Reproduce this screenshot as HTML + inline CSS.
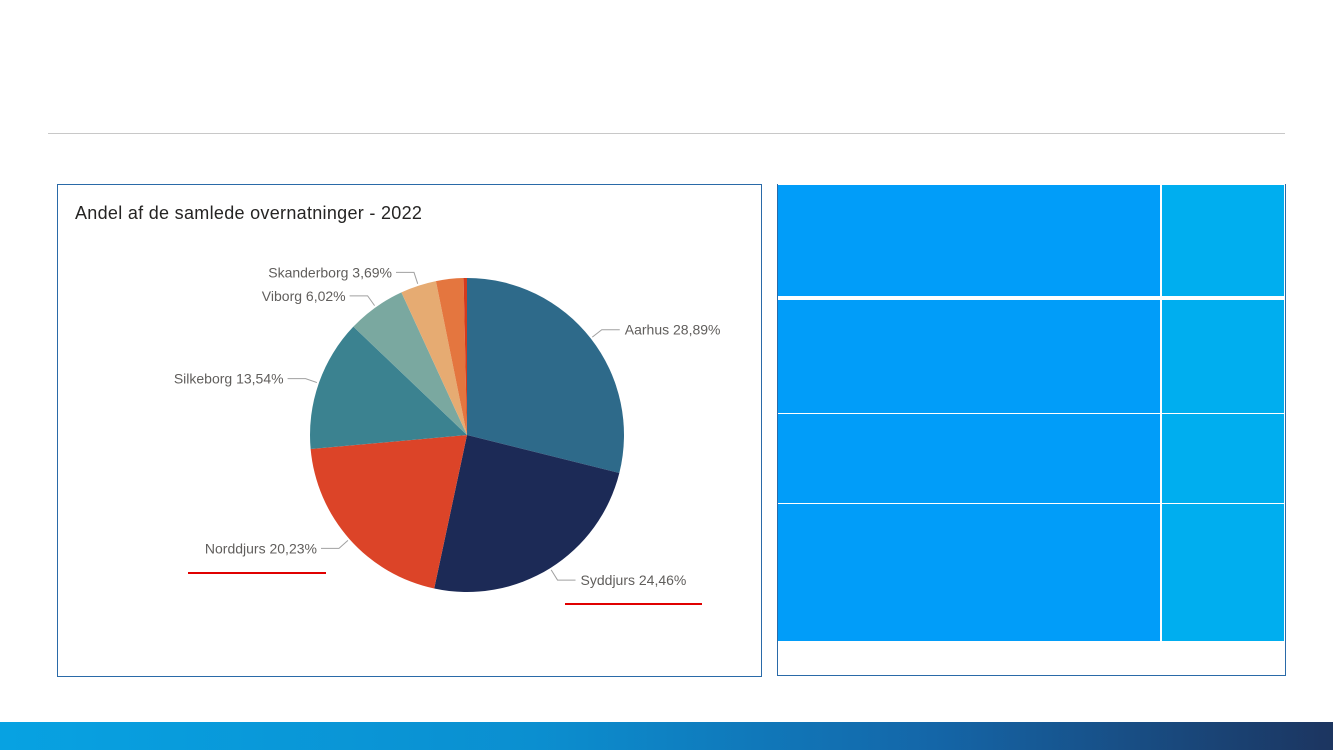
<!DOCTYPE html>
<html><head><meta charset="utf-8">
<style>
body{margin:0;width:1333px;height:750px;background:#fff;position:relative;overflow:hidden;font-family:"Liberation Sans",sans-serif}
.abs{position:absolute}
</style></head>
<body>
<div class="abs" style="left:48px;top:133px;width:1237px;height:1px;background:#c8c8c8"></div>
<div class="abs" style="left:57px;top:184px;width:703px;height:491px;border:1px solid #2a6aa8"></div>
<div class="abs" style="left:75px;top:203px;font-size:18px;color:#252423;letter-spacing:0.3px">Andel af de samlede overnatninger - 2022</div>
<svg class="abs" style="left:0;top:0" width="1333" height="750">
<g id="pie"></g>
<line x1="188" y1="573" x2="326" y2="573" stroke="#e00000" stroke-width="2"/>
<line x1="565" y1="604" x2="702" y2="604" stroke="#e00000" stroke-width="2"/>
</svg>
<div class="abs" style="left:777px;top:184px;width:507px;height:491px;border:1px solid #2a6aa8;border-top:none"></div>
<div class="abs" style="left:778px;top:185px;width:506px;height:456px">
 <div class="abs" style="left:0;top:0;width:382px;height:111px;background:#019df9"></div>
 <div class="abs" style="left:384px;top:0;width:122px;height:111px;background:#00aeef"></div>
 <div class="abs" style="left:0;top:115px;width:382px;height:113px;background:#019df9"></div>
 <div class="abs" style="left:384px;top:115px;width:122px;height:113px;background:#00aeef"></div>
 <div class="abs" style="left:0;top:229px;width:382px;height:89px;background:#019df9"></div>
 <div class="abs" style="left:384px;top:229px;width:122px;height:89px;background:#00aeef"></div>
 <div class="abs" style="left:0;top:319px;width:382px;height:137px;background:#019df9"></div>
 <div class="abs" style="left:384px;top:319px;width:122px;height:137px;background:#00aeef"></div>
</div>
<div class="abs" style="left:0;top:722px;width:1333px;height:28px;background:linear-gradient(90deg,#07a2e2 0%,#0b8fd0 40%,#1466a8 70%,#1c3560 100%)"></div>
<script>
const categories=["Aarhus","Syddjurs","Norddjurs","Silkeborg","Viborg","Skanderborg","Øvrige A","Øvrige B"];
const values=[28.89,24.46,20.23,13.54,6.02,3.69,2.82,0.35];
const labels=["Aarhus 28,89%","Syddjurs 24,46%","Norddjurs 20,23%","Silkeborg 13,54%","Viborg 6,02%","Skanderborg 3,69%","",""];
const colors=["#2e6a8a","#1c2a56","#dc4428","#3b8290","#7aa8a0","#e6ab72","#e4763f","#d43a1e"];
const cx=467,cy=435,R=157;
const NS="http://www.w3.org/2000/svg";
const g=document.getElementById('pie');
const total=values.reduce((a,b)=>a+b,0);
function pt(a,r){return [cx+r*Math.sin(a),cy-r*Math.cos(a)];}
let acc=0;
values.forEach((v,i)=>{
 const a0=acc/total*2*Math.PI; acc+=v; const a1=acc/total*2*Math.PI;
 const p0=pt(a0,R),p1=pt(a1,R);
 const path=document.createElementNS(NS,'path');
 path.setAttribute('d',`M${cx},${cy}L${p0[0]},${p0[1]}A${R},${R} 0 ${a1-a0>Math.PI?1:0} 1 ${p1[0]},${p1[1]}Z`);
 path.setAttribute('fill',colors[i]);
 
 
 g.appendChild(path);
 if(labels[i]){
  const am=(a0+a1)/2, right=Math.sin(am)>=0;
  const s=pt(am,R+2), e=pt(am,R+14);
  const hx=e[0]+(right?18:-18);
  const pl=document.createElementNS(NS,'polyline');
  pl.setAttribute('points',`${s[0]},${s[1]} ${e[0]},${e[1]} ${hx},${e[1]}`);
  pl.setAttribute('fill','none');pl.setAttribute('stroke','#a0a0a0');pl.setAttribute('stroke-width','1');
  
  
  g.appendChild(pl);
  const t=document.createElementNS(NS,'text');
  t.setAttribute('x',hx+(right?5:-4));t.setAttribute('y',e[1]+5);
  t.setAttribute('text-anchor',right?'start':'end');
  t.setAttribute('font-size','14');t.setAttribute('fill','#605e5c');
  t.setAttribute('font-family','Liberation Sans, sans-serif');
  t.textContent=labels[i];
  
  
  g.appendChild(t);
 }
});
</script>
</body></html>
